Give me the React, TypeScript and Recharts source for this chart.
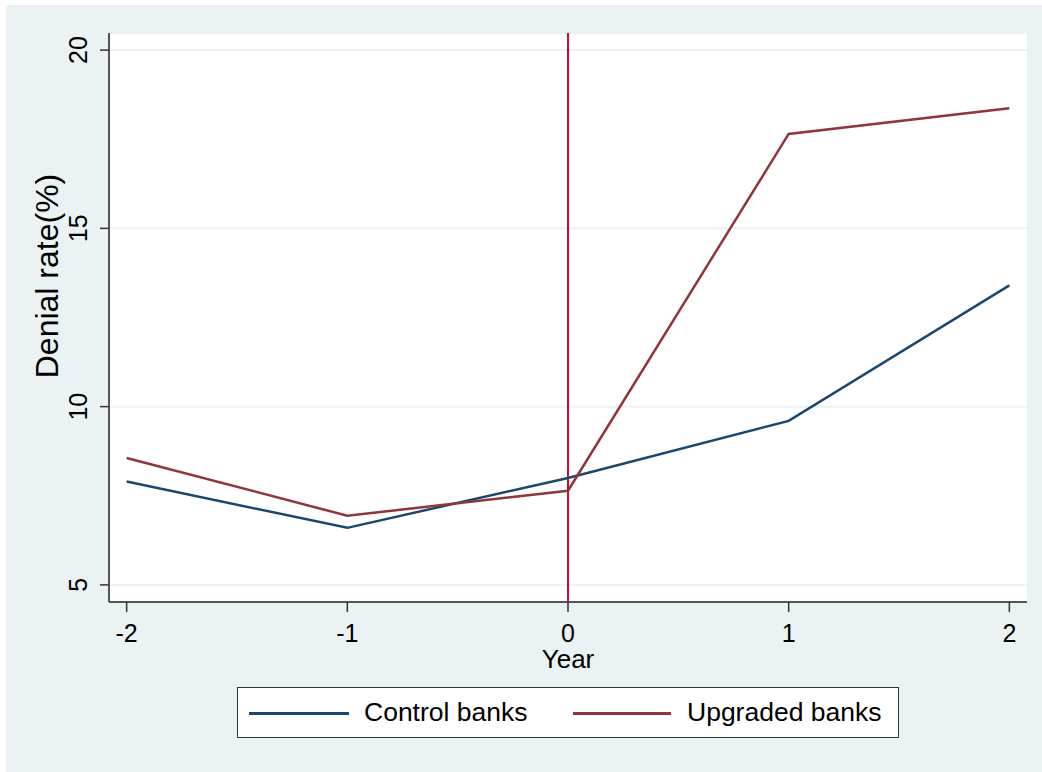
import React from 'react';
import { LineChart, Line, XAxis, YAxis, CartesianGrid, ReferenceLine } from 'recharts';

const years = [-2, -1, 0, 1, 2];
const controlBanks = [7.9, 6.6, 8.0, 9.6, 13.4];
const upgradedBanks = [8.56, 6.94, 7.64, 17.65, 18.37];
const xTicks = [-2, -1, 0, 1, 2];
const yTicks = [5, 10, 15, 20];
const seriesKeys = ['control', 'upgraded'];
const seriesNames = ['Control banks', 'Upgraded banks'];
const seriesColors = ['#1A476F', '#90353B'];
const eventYear = 0;

const data = years.map((y, i) => ({ year: y, control: controlBanks[i], upgraded: upgradedBanks[i] }));

const FONT = '"Liberation Sans", Arial, Helvetica, sans-serif';

const YTick = (props: any) => {
  const { x, y, payload } = props;
  const bx = x - 13;
  return (
    <text x={bx} y={y} transform={`rotate(-90 ${bx} ${y})`} textAnchor="middle" fontSize={25} fill="#000" fontFamily={FONT}>
      {payload.value}
    </text>
  );
};

const YLabel = (props: any) => {
  const cx = 58;
  const cy = 276;
  return (
    <text x={cx} y={cy} transform={`rotate(-90 ${cx} ${cy})`} textAnchor="middle" fontSize={32} fill="#000" fontFamily={FONT}>
      Denial rate(%)
    </text>
  );
};

const XLabel = (props: any) => {
  const vb = props.viewBox || {};
  const cx = vb.x + vb.width / 2;
  return (
    <text x={cx} y={vb.y + 66} textAnchor="middle" fontSize={26} fill="#000" fontFamily={FONT}>
      Year
    </text>
  );
};

const legendLines = [
  { x1: 248, x2: 348, tx: 363 },
  { x1: 572, x2: 670, tx: 686 },
];

export default function App() {
  return (
    <div style={{ position: 'absolute', left: 0, top: 0, width: 1042, height: 772, background: '#fff', fontFamily: FONT }}>
      <div style={{ position: 'absolute', left: 6, top: 5, width: 1036, height: 767, background: '#EAF2F3' }} />
      <div style={{ position: 'absolute', left: 0, top: 0 }}>
        <LineChart width={1042} height={772} data={data} margin={{ top: 33, right: 15, bottom: 100, left: 0 }}>
          <CartesianGrid vertical={false} fill="#ffffff" stroke="#EAF2F3" strokeWidth={2} />
          <XAxis
            dataKey="year"
            type="number"
            domain={[-2.08, 2.08]}
            ticks={xTicks}
            allowDataOverflow
            height={70}
            tickSize={10}
            tickMargin={12}
            axisLine={{ stroke: '#555', strokeWidth: 2 }}
            tickLine={{ stroke: '#333', strokeWidth: 1.5 }}
            tick={{ fontSize: 25, fill: '#000', fontFamily: FONT }}
            label={<XLabel />}
          />
          <YAxis
            type="number"
            domain={[4.52, 20.48]}
            ticks={yTicks}
            allowDataOverflow
            width={109}
            tickSize={9}
            tickMargin={0}
            axisLine={{ stroke: '#555', strokeWidth: 2 }}
            tickLine={{ stroke: '#333', strokeWidth: 1.5 }}
            tick={<YTick />}
            label={<YLabel />}
          />
          <ReferenceLine x={eventYear} stroke="#CC0A3A" strokeWidth={2} />
          {seriesKeys.map((k, i) => (
            <Line
              key={k}
              dataKey={k}
              name={seriesNames[i]}
              type="linear"
              stroke={seriesColors[i]}
              strokeWidth={2.5}
              dot={false}
              activeDot={false}
              isAnimationActive={false}
            />
          ))}
        </LineChart>
      </div>
      <div
        style={{
          position: 'absolute',
          left: 237,
          top: 687,
          width: 662,
          height: 51,
          boxSizing: 'border-box',
          border: '1.5px solid #333',
          background: '#fff',
        }}
      >
        {seriesNames.map((n, i) => (
          <React.Fragment key={n}>
            <div
              style={{
                position: 'absolute',
                left: legendLines[i].x1 - 237,
                top: 24,
                width: legendLines[i].x2 - legendLines[i].x1,
                height: 2.5,
                background: seriesColors[i],
              }}
            />
            <div
              style={{
                position: 'absolute',
                left: legendLines[i].tx - 237,
                top: 9,
                fontSize: 26.5,
                lineHeight: '30px',
                color: '#000',
                whiteSpace: 'nowrap',
              }}
            >
              {n}
            </div>
          </React.Fragment>
        ))}
      </div>
    </div>
  );
}
